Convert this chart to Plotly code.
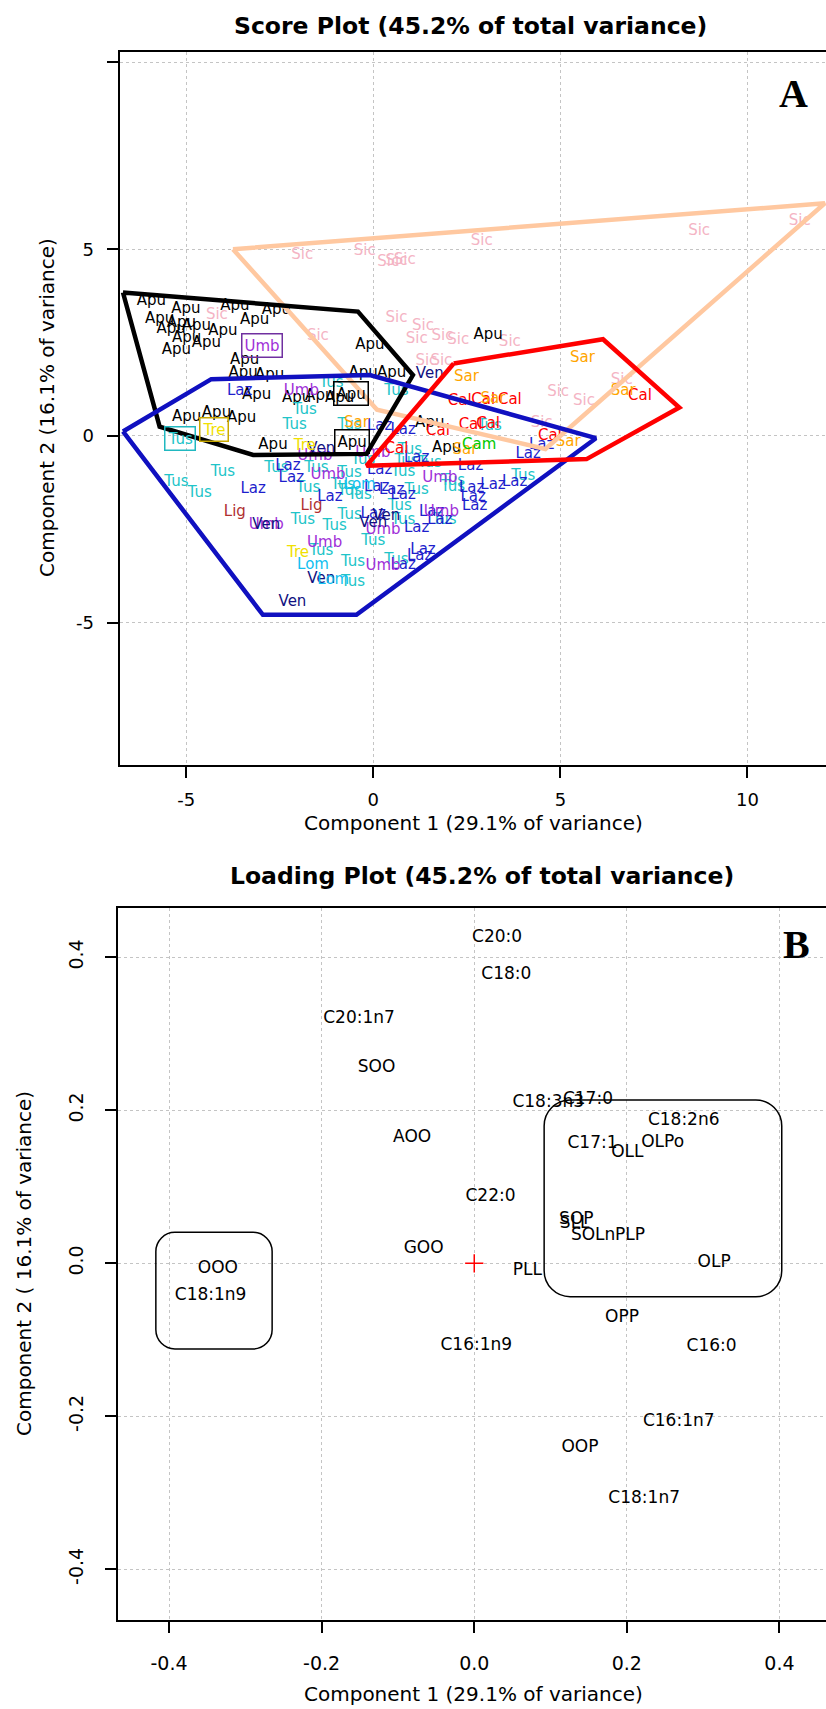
import plotly.graph_objects as go

W, H = 826, 1709
FONT = "DejaVu Sans"

# ---------------- Panel A: score plot data ----------------
apu_x = [-5.93, -5.01, -3.70, -2.59, -5.71, -5.13, -5.40, -4.73, -4.02, -3.17, -4.99, -4.46, -5.26,
         -3.44, -3.48, -2.77, -3.12, -2.05, -1.43, -0.90, -4.99, -4.19, -3.52, -2.68, -0.09, -0.27,
         0.49, 3.07, 1.51, 1.96]
apu_y = [3.60, 3.39, 3.48, 3.36, 3.12, 3.02, 2.86, 2.93, 2.81, 3.09, 2.62, 2.48, 2.30,
         2.03, 1.68, 1.63, 1.10, 1.01, 1.05, 1.01, 0.50, 0.61, 0.47, -0.24, 2.44, 1.68,
         1.68, 2.70, 0.34, -0.33]

sic_x = [-1.90, -0.23, 0.40, 0.84, 0.62, 2.90, 8.71, 11.40, -4.18, -1.48, 0.62, 1.33, 1.16, 1.85,
         2.27, 3.65, 1.42, 1.82, 6.64, 4.94, 5.63, 4.50]
sic_y = [4.85, 4.95, 4.64, 4.71, 4.68, 5.20, 5.47, 5.76, 3.22, 2.66, 3.15, 2.93, 2.59, 2.67,
         2.57, 2.50, 1.99, 1.99, 1.50, 1.16, 0.92, 0.34]

cal_x = [2.31, 2.94, 3.65, 7.13, 3.07, 4.72, 1.73, 0.62, 2.60]
cal_y = [0.94, 0.96, 0.96, 1.07, 0.32, 0.00, 0.12, -0.36, 0.30]

sar_x = [5.59, 2.49, 6.68, 3.20, 5.21, 2.45, -0.45]
sar_y = [2.08, 1.56, 1.19, 0.98, -0.18, -0.39, 0.34]

cam_x = [2.83]
cam_y = [-0.24]

ven_x = [1.51, -1.39, 0.35, 0.00, -2.86, -1.39, -2.16]
ven_y = [1.66, -0.36, -2.16, -2.34, -2.38, -3.84, -4.44]

laz_x = [-3.57, 0.17, 0.80, 4.50, 4.14, 2.60, 3.78, 3.20, 2.63, 2.67, 2.71, 1.16, -2.28, -2.19,
         0.17, -1.16, 0.09, 0.49, 0.80, 0.00, 1.16, 1.56, 1.78, 1.33, 1.24, 0.80, -3.21]
laz_y = [1.20, 0.25, 0.16, -0.24, -0.48, -0.82, -1.25, -1.31, -1.40, -1.63, -1.89, -0.60, -0.82, -1.13,
         -0.91, -1.64, -1.36, -1.45, -1.58, -2.09, -2.47, -2.03, -2.25, -3.05, -3.23, -3.45, -1.43]

tus_x = [-1.12, 0.62, -1.83, -2.10, -0.63, 3.11, 0.98, -0.27, 0.89, 1.51, 4.01, 2.13, -2.59, -1.52,
         -0.63, 0.80, 2.13, -1.74, -0.81, -0.63, 1.16, -0.36, 0.71, -1.88, -1.03, -0.63, 0.80, 1.90,
         0.00, -1.39, -0.54, -0.54, 0.62, -5.26, -4.64, -4.02]
tus_y = [1.41, 1.19, 0.70, 0.28, 0.29, 0.25, -0.37, -0.64, -0.69, -0.73, -1.09, -1.22, -0.87, -0.87,
         -1.00, -0.96, -1.36, -1.40, -1.31, -1.49, -1.45, -1.58, -1.87, -2.25, -2.43, -2.12, -2.25, -2.25,
         -2.83, -3.10, -3.37, -3.93, -3.32, -1.25, -1.53, -0.98]

umb_x = [-1.92, -1.56, -0.01, -1.21, 1.78, 1.82, 0.26, -1.30, -2.86, 0.26]
umb_y = [1.19, -0.55, -0.46, -1.04, -1.13, -2.03, -2.52, -2.86, -2.38, -3.48]

lig_x = [-3.70, -1.65]
lig_y = [-2.05, -1.89]

lom_x = [-0.36, -1.61, -1.07]
lom_y = [-1.31, -3.45, -3.86]

tre_x = [-1.83, -2.01]
tre_y = [-0.27, -3.14]

# labels drawn inside a small frame
boxed_labels = ["Umb", "Tre", "Tus", "Apu", "Apu"]
boxed_x = [-2.97, -4.25, -5.17, -0.60, -0.58]
boxed_y = [2.43, 0.16, -0.08, 1.15, -0.16]

# convex hulls of the regions
hull_sic_x = [-3.75, 12.07, 4.60, 0.10, -3.75]
hull_sic_y = [5.00, 6.23, -0.35, 0.70, 5.00]
hull_apu_x = [-6.69, -0.41, 1.06, -0.18, -3.21, -5.71, -6.69]
hull_apu_y = [3.84, 3.33, 1.63, -0.48, -0.51, 0.25, 3.84]
hull_cen_x = [-6.69, -4.33, -0.09, 5.95, -0.45, -2.95, -6.69]
hull_cen_y = [0.12, 1.52, 1.63, -0.06, -4.79, -4.79, 0.12]
hull_isl_x = [2.15, 6.14, 8.18, 5.70, -0.18, 2.15]
hull_isl_y = [1.94, 2.59, 0.76, -0.62, -0.80, 1.94]

# ---------------- Panel B: loading plot data ----------------
load_labels = ["C20:0", "C18:0", "C20:1n7", "SOO", "C18:3n3", "C17:0", "C18:2n6", "AOO",
               "C17:1", "OLL", "OLPo", "C22:0", "SOP", "SLL", "SOLn", "PLP", "GOO", "PLL", "OLP",
               "OOO", "C18:1n9", "OPP", "C16:1n9", "C16:0", "C16:1n7", "OOP", "C18:1n7"]
load_x = [0.030, 0.042, -0.151, -0.128, 0.097, 0.149, 0.2745, -0.0814,
          0.155, 0.2006, 0.2469, 0.0213, 0.1338, 0.1317, 0.1558, 0.204, -0.0663, 0.0696, 0.3144,
          -0.3359, -0.3455, 0.1937, 0.0027, 0.311, 0.268, 0.1386, 0.2227]
load_y = [0.4256, 0.377, 0.320, 0.256, 0.210, 0.214, 0.186, 0.1647,
          0.156, 0.145, 0.1577, 0.0863, 0.0575, 0.0523, 0.0357, 0.0357, 0.0187, -0.010, 0.0008,
          -0.007, -0.0427, -0.0711, -0.108, -0.109, -0.207, -0.241, -0.308]
origin_x = [0.0]
origin_y = [0.0]

# cluster frames (x0, x1, y0, y1)
cluster_left = [-0.4173, -0.2649, -0.112, 0.0405]
cluster_right = [0.0916, 0.4030, -0.0437, 0.2135]


def px(xp):
    return xp / W


def py(yp):
    return 1 - yp / H


fig = go.Figure()

LBL = 15


def add_text(xs, ys, label, color, size=LBL, xa="x", ya="y"):
    fig.add_trace(go.Scatter(x=xs, y=ys, mode="text", text=[label] * len(xs),
                             textposition="middle center",
                             textfont=dict(family=FONT, size=size, color=color),
                             xaxis=xa, yaxis=ya, hoverinfo="skip", showlegend=False))


add_text(sic_x, sic_y, "Sic", "#F4B4C4")
add_text(apu_x, apu_y, "Apu", "#000000")
add_text(tus_x, tus_y, "Tus", "#20C4C8")
add_text(laz_x, laz_y, "Laz", "#1E1ECC")
add_text(umb_x, umb_y, "Umb", "#A030D8")
add_text(ven_x, ven_y, "Ven", "#101080")
add_text(lig_x, lig_y, "Lig", "#B03030")
add_text(lom_x, lom_y, "Lom", "#10C0F0")
add_text(tre_x, tre_y, "Tre", "#F0E000")
add_text(cal_x, cal_y, "Cal", "#FF0000")
add_text(sar_x, sar_y, "Sar", "#FFA500")
add_text(cam_x, cam_y, "Cam", "#00C800")


def add_hull(xs, ys, color, width=4.5):
    fig.add_trace(go.Scatter(x=xs, y=ys, mode="lines", line=dict(color=color, width=width),
                             xaxis="x", yaxis="y", hoverinfo="skip", showlegend=False))


add_hull(hull_sic_x, hull_sic_y, "#FFC8A0")
add_hull(hull_apu_x, hull_apu_y, "#000000")
add_hull(hull_cen_x, hull_cen_y, "#1010C0")
add_hull(hull_isl_x, hull_isl_y, "#FF0000")

boxed_colors = ["#A030D8", "#F0E000", "#20C4C8", "#000000", "#000000"]
boxed_border = ["#7030A0", "#C8A800", "#20B8C0", "#000000", "#000000"]
annotations = []
for lab, bx, by, c, bc in zip(boxed_labels, boxed_x, boxed_y, boxed_colors, boxed_border):
    annotations.append(dict(x=bx, y=by, xref="x", yref="y", text=lab, showarrow=False,
                            font=dict(family=FONT, size=LBL, color=c),
                            bordercolor=bc, borderwidth=1.5, borderpad=2))

# Panel B traces
fig.add_trace(go.Scatter(x=load_x, y=load_y, mode="text", text=load_labels,
                         textposition="middle center",
                         textfont=dict(family=FONT, size=17, color="#000000"),
                         xaxis="x2", yaxis="y2", hoverinfo="skip", showlegend=False))
fig.add_trace(go.Scatter(x=origin_x, y=origin_y, mode="markers",
                         marker=dict(symbol="cross-thin", size=13, line=dict(color="#FF0000", width=1.5)),
                         xaxis="x2", yaxis="y2", hoverinfo="skip", showlegend=False))


def rrect(b, rx, ry):
    x0, x1, y0, y1 = b
    k = 0.45
    return (f"M {x0 + rx},{y0} L {x1 - rx},{y0} C {x1 - rx * k},{y0} {x1},{y0 + ry * k} {x1},{y0 + ry} "
            f"L {x1},{y1 - ry} C {x1},{y1 - ry * k} {x1 - rx * k},{y1} {x1 - rx},{y1} "
            f"L {x0 + rx},{y1} C {x0 + rx * k},{y1} {x0},{y1 - ry * k} {x0},{y1 - ry} "
            f"L {x0},{y0 + ry} C {x0},{y0 + ry * k} {x0 + rx * k},{y0} {x0 + rx},{y0} Z")


shapes = [
    dict(type="path", path=rrect(cluster_left, 0.025, 0.025), xref="x2", yref="y2",
         line=dict(color="#000000", width=1.5)),
    dict(type="path", path=rrect(cluster_right, 0.034, 0.034), xref="x2", yref="y2",
         line=dict(color="#000000", width=1.5)),
]


def ann(text, xp, yp, size, bold=False, family=FONT, angle=0):
    t = f"<b>{text}</b>" if bold else text
    annotations.append(dict(x=px(xp), y=py(yp), xref="paper", yref="paper", text=t,
                            showarrow=False, textangle=angle, xanchor="center", yanchor="middle",
                            font=dict(family=family, size=size, color="#000000")))


ann("Score Plot (45.2% of total variance)", 471, 26, 23.5, bold=True)
ann("Loading Plot (45.2% of total variance)", 482, 876, 23.5, bold=True)
ann("Component 1 (29.1% of variance)", 473, 823, 20)
ann("Component 1 (29.1% of variance)", 473, 1694, 20)
ann("Component 2 (16.1% of variance)", 47, 408, 20, angle=-90)
ann("Component 2 ( 16.1% of variance)", 24, 1264, 20, angle=-90)
ann("A", 793, 93, 40, bold=True, family="Liberation Serif")
ann("B", 796, 944, 40, bold=True, family="Liberation Serif")

axis_common = dict(showgrid=True, gridcolor="#C4C4C4", griddash="dot", gridwidth=1,
                   zeroline=False, showline=True, linecolor="#000000", linewidth=2,
                   ticks="outside", ticklen=11, tickwidth=2, tickcolor="#000000",
                   automargin=False)

fig.update_layout(
    width=W, height=H, margin=dict(l=0, r=0, t=0, b=0, autoexpand=False),
    paper_bgcolor="#FFFFFF", plot_bgcolor="#FFFFFF",
    showlegend=False,
    xaxis=dict(domain=[px(119.6), 1.0], range=[-6.78, 12.10], anchor="y",
               tickvals=[-5, 0, 5, 10], ticktext=["-5", "0", "5", "10"], mirror=True,
               tickfont=dict(family=FONT, size=18, color="#000000"), ticklabelstandoff=6,
               **axis_common),
    yaxis=dict(domain=[py(765), py(52)], range=[-8.81, 10.28], anchor="x",
               tickvals=[-5, 0, 5, 10], ticktext=["-5", "0", "5", ""], mirror=False,
               tickfont=dict(family=FONT, size=18, color="#000000"), ticklabelstandoff=9,
               **axis_common),
    xaxis2=dict(domain=[px(118), 1.0], range=[-0.4669, 0.461], anchor="y2",
                tickvals=[-0.4, -0.2, 0.0, 0.2, 0.4], ticktext=["-0.4", "-0.2", "0.0", "0.2", "0.4"],
                mirror=True, tickfont=dict(family=FONT, size=19, color="#000000"),
                ticklabelstandoff=14, **axis_common),
    yaxis2=dict(domain=[py(1620), py(907.7)], range=[-0.4663, 0.4648], anchor="x2",
                tickvals=[-0.4, -0.2, 0.0, 0.2, 0.4], ticktext=["-0.4", "-0.2", "0.0", "0.2", "0.4"],
                mirror=False, tickangle=-90, tickfont=dict(family=FONT, size=19, color="#000000"),
                ticklabelstandoff=14, **axis_common),
    annotations=annotations,
    shapes=shapes,
)

fig.write_html("out.html", config={"displayModeBar": False},
               post_script="document.body.style.margin='0';document.body.style.padding='0';"
                           "document.documentElement.style.margin='0';")
